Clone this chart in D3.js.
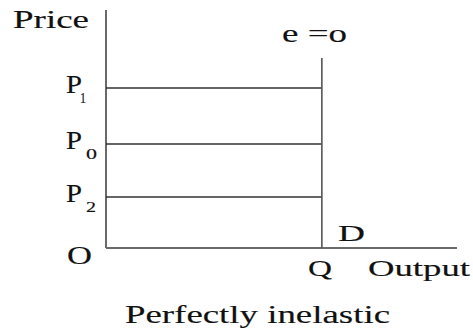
<!DOCTYPE html>
<html>
<head>
<meta charset="utf-8">
<script src="https://cdn.jsdelivr.net/npm/d3@7"></script>
<style>
  html, body { margin: 0; padding: 0; background: #fff; }
  svg text { font-family: "Liberation Serif", "Times New Roman", serif; fill: #111; stroke: #111; stroke-width: 0.15px; }
</style>
</head>
<body>
<svg id="chart" width="473" height="330"></svg>
<script>
// Perfectly inelastic demand: one quantity at every price
const priceLevels = ["P1", "P0", "P2"];
const priceValues = [67.2, 43.7, 21.4];
const priceSubs = ["1", "0", "2"];
const quantityQ = 61.5;
const demandTop = 79.8;

const svg = d3.select("#chart");
const x = d3.scaleLinear().domain([0, 100]).range([106, 457]);
const y = d3.scaleLinear().domain([0, 100]).range([248, 10]);

// axes
svg.append("line")
  .attr("x1", x(0)).attr("x2", x(0)).attr("y1", y(100)).attr("y2", y(0))
  .attr("stroke", "#6a6a6a").attr("stroke-width", 2);
svg.append("line")
  .attr("x1", x(0)).attr("x2", x(100)).attr("y1", y(0)).attr("y2", y(0))
  .attr("stroke", "#6a6a6a").attr("stroke-width", 2);

// price lines running across to the demand curve
svg.selectAll("line.price").data(priceValues).join("line")
  .attr("class", "price")
  .attr("x1", x(0)).attr("x2", x(quantityQ))
  .attr("y1", d => y(d)).attr("y2", d => y(d))
  .attr("stroke", "#333").attr("stroke-width", 1.5);

// vertical demand curve
svg.append("line")
  .attr("x1", x(quantityQ)).attr("x2", x(quantityQ))
  .attr("y1", y(demandTop)).attr("y2", y(0))
  .attr("stroke", "#555").attr("stroke-width", 1.6);

function label(txt, px, py, size, len) {
  const t = svg.append("text").attr("x", px).attr("y", py)
    .attr("font-size", size).text(txt);
  if (len) t.attr("textLength", len).attr("lengthAdjust", "spacingAndGlyphs");
  return t;
}

// price labels with subscripts
const subX = [80, 86, 86];
const subW = [6, 11, 10];
priceValues.forEach((v, i) => {
  const base = y(v) + 5;
  label("P", 66, base, 25, 16);
  label(priceSubs[i], subX[i], base + 10, 14, subW[i]);
});

label("Price", 13, 28, 25, 76);
label("O", 67, 264, 25, 25);
label("e =o", 282, 42, 25, 65);
label("D", 338, 241, 24, 27);
label("Q", 308, 276, 24, 24);
label("Output", 368, 276, 24, 102);
label("Perfectly inelastic", 125, 323, 25, 265);
</script>
</body>
</html>
